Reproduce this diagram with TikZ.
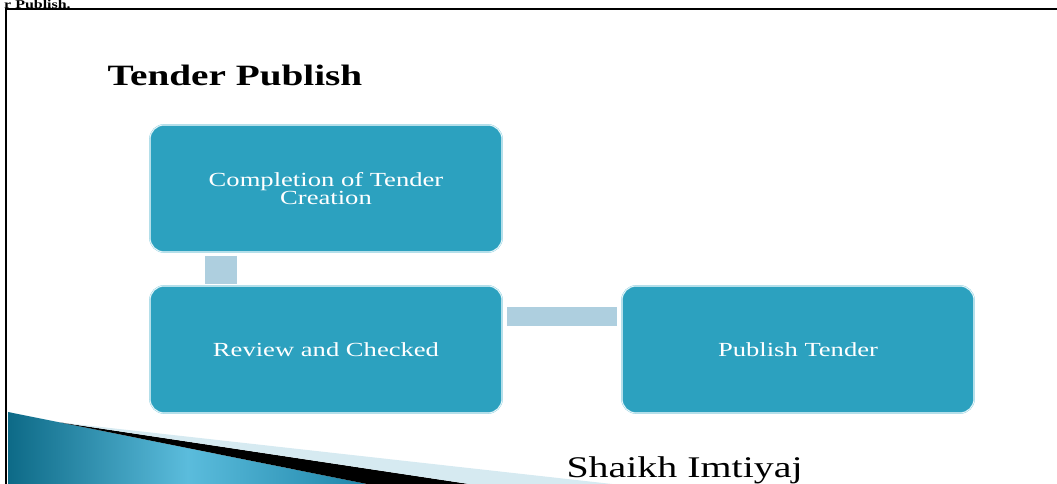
\documentclass[tikz,border=0pt]{standalone}
\usepackage{fontspec}
\setmainfont{Liberation Serif}
\usepackage{graphicx}
\definecolor{boxfill}{HTML}{2CA1BF}
\definecolor{boxedge}{HTML}{8CCFE0}
\definecolor{linkblue}{HTML}{AECFDF}
\definecolor{swlight}{HTML}{D6EAF1}
\definecolor{swdark}{HTML}{0D6A87}
\definecolor{swmid}{HTML}{5BBCDC}
\definecolor{swright}{HTML}{1F86AA}
\newcommand{\wtext}[1]{\scalebox{1.33}[1]{#1}}
\begin{document}
\begin{tikzpicture}[x=1pt, y=1pt, stepbox/.style={draw=boxedge, double=white, double distance=0.6pt, line width=0.5pt, fill=boxfill, rounded corners=14pt, minimum width=352pt, minimum height=127pt, text=white, align=center, font=\fontsize{20}{16.5}\selectfont, inner sep=0pt, outer sep=0pt}, link/.style={draw=linkblue}]
\useasboundingbox (0,0) rectangle (1057,484);

% swoosh at the bottom left
\shade[left color=swdark, right color=swright, middle color=swmid] (8,72) -- (367,0) -- (8,0) -- cycle;
\fill (60,61.6) -- (469,0) -- (367,0) -- cycle;
\fill[swlight] (60,61.6) -- (612,0) -- (469,0) -- cycle;

% frame
\draw[line width=2.2pt] (6,-10) -- (6,475) -- (1070,475);
\node (prev) at (4,475.5) [anchor=base west, font=\bfseries\fontsize{12}{12}\selectfont, inner sep=0pt] {\wtext{r Publish.}};

\node (title) at (104,398) [anchor=base west, font=\bfseries\fontsize{29.5}{30}\selectfont] {\wtext{Tender Publish}};

\node (create) at (326,295.5) [stepbox] {\wtext{Completion of Tender}\\\wtext{Creation}};
\node (review) at (326,134.5) [stepbox] {\wtext{Review and Checked}};
\node (publish) at (798,134.5) [stepbox] {\wtext{Publish Tender}};

\draw[link, line width=32pt] ([xshift=-105pt,yshift=-4pt]create.south) -- ([xshift=-105pt,yshift=2pt]review.north);
\draw[link, line width=19pt] ([xshift=5pt,yshift=33pt]review.east) -- ([xshift=-5pt,yshift=33pt]publish.west);

\node (author) at (563,6) [anchor=base west, font=\fontsize{30}{30}\selectfont] {\wtext{Shaikh Imtiyaj}};
\end{tikzpicture}
\end{document}
